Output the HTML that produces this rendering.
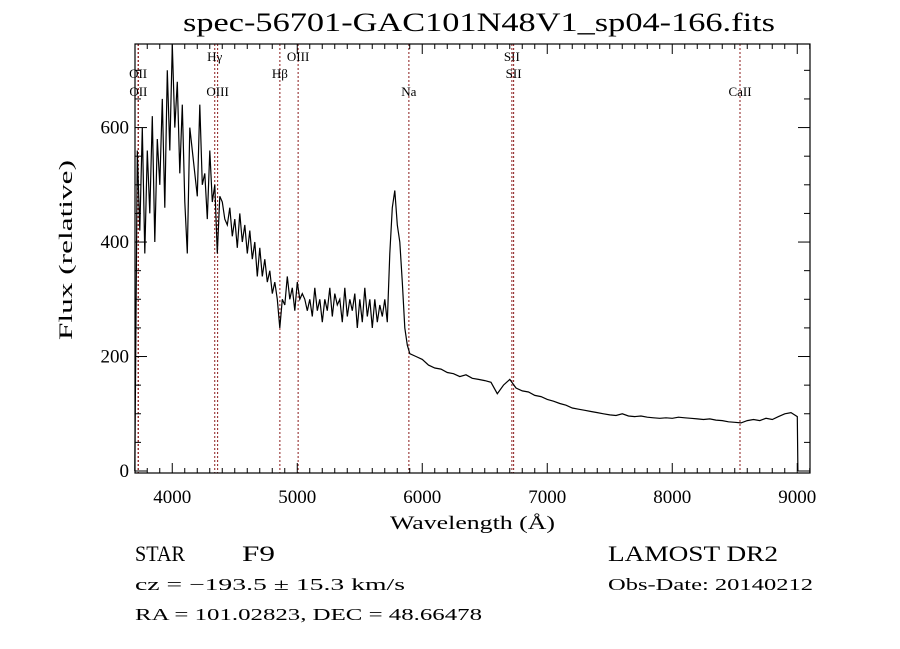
<!DOCTYPE html>
<html><head><meta charset="utf-8"><style>
html,body{margin:0;padding:0;background:#fff}
svg{display:block}
text{font-family:"Liberation Serif",serif;fill:#000}
</style></head><body>
<svg id="chart" width="900" height="649" viewBox="0 0 900 649" xmlns="http://www.w3.org/2000/svg">
<rect width="900" height="649" fill="#fff"/>
<text x="183" y="31" font-size="26" textLength="592" lengthAdjust="spacingAndGlyphs">spec-56701-GAC101N48V1_sp04-166.fits</text>
<g id="lines"></g>
<g id="axes"></g>
<polyline id="spec" fill="none" stroke="#000" stroke-width="1.2" stroke-linejoin="miter"/>
<rect x="135" y="44" width="675" height="429" fill="none" stroke="#000" stroke-width="1.2"/>
<text x="390" y="529" font-size="19" textLength="165" lengthAdjust="spacingAndGlyphs">Wavelength (Å)</text>
<text transform="translate(72,340) rotate(-90)" font-size="19" textLength="180" lengthAdjust="spacingAndGlyphs">Flux (relative)</text>
<text x="135" y="561" font-size="22" textLength="50" lengthAdjust="spacingAndGlyphs">STAR</text>
<text x="242" y="561" font-size="22" textLength="33" lengthAdjust="spacingAndGlyphs">F9</text>
<text x="608" y="561" font-size="22" textLength="170" lengthAdjust="spacingAndGlyphs">LAMOST DR2</text>
<text x="135" y="590" font-size="17" textLength="270" lengthAdjust="spacingAndGlyphs">cz = −193.5 ± 15.3 km/s</text>
<text x="608" y="590" font-size="17" textLength="205" lengthAdjust="spacingAndGlyphs">Obs-Date: 20140212</text>
<text x="135" y="620" font-size="17" textLength="347" lengthAdjust="spacingAndGlyphs">RA = 101.02823, DEC =  48.66478</text>
</svg>
<script>
const blueStart=3700, blueStep=20;
const fluxBlue=[0,560,420,600,380, 560,450,620,400,580, 500,650,460,700,560, 745,600,680,520,640,
470,380,600,560,520, 480,640,500,520,440, 560,470,500,380,480, 470,440,430,460,410,
440,390,450,400,430, 380,420,370,400,340, 390,340,370,330,350, 310,330,300,250,300,
290,340,300,320,280, 330,300,310,300,280, 300,270,320,280,300, 260,300,280,320,270,
310,290,300,260,320, 270,300,280,310,250, 300,260,320,270,300, 250,300,260,290,270,
300,260,380,460,490, 430,400,330,250,220, 205];
const redStart=5950, redStep=50;
const fluxRed=[200,195,185,180,178,172,170,165,168,162,160,158,155,135,150,160,145,140,138,132,
130,125,122,118,115,110,108,106,104,102,100,98,97,100,96,95,96,94,93,92,
93,92,94,93,92,91,90,91,89,88,86,85,84,88,90,88,92,90,95,100,102,95];
const lineWaves=[3727,3729,4340,4363,4861,5007,5893,6717,6731,8542];
const lineNames=["OII","OII","Hγ","OIII","Hβ","OIII","Na","SII","SII","CaII"];
const lineLabelRows=[1,2,0,2,1,0,2,0,1,2];
const xTicks=[4000,5000,6000,7000,8000,9000];
const yTicks=[0,200,400,600];
const X0=135,X1=810,Y0=44,Y1=473,WMIN=3702,WMAX=9102,FMIN=-3.5,FMAX=746;
const xs=w=>X0+(w-WMIN)/(WMAX-WMIN)*(X1-X0);
const ys=f=>Y1-(f-FMIN)/(FMAX-FMIN)*(Y1-Y0);
const NS="http://www.w3.org/2000/svg";
function mk(tag,parent){const e=document.createElementNS(NS,tag);parent.appendChild(e);return e;}
const pts=[];
fluxBlue.forEach((f,i)=>pts.push([blueStart+i*blueStep,f]));
fluxRed.forEach((f,i)=>pts.push([redStart+i*redStep,f]));
const last=pts[pts.length-1];
pts.push([last[0]+5,0]);
const spec=document.getElementById('spec');
spec.setAttribute('points',pts.map(p=>xs(p[0]).toFixed(1)+','+ys(p[1]).toFixed(1)).join(' '));
const lg=document.getElementById('lines');
const rowY=[61,78,96];
lineWaves.forEach((w,i)=>{
  const l=mk('line',lg);
  
  
  l.setAttribute('x1',xs(w));l.setAttribute('x2',xs(w));l.setAttribute('y1',Y0);l.setAttribute('y2',Y1);
  l.setAttribute('stroke','#8b1a1a');l.setAttribute('stroke-width','1');l.setAttribute('stroke-dasharray','2,2');
  const t=mk('text',lg);
  
  
  t.setAttribute('x',xs(w));t.setAttribute('y',rowY[lineLabelRows[i]]);
  t.setAttribute('font-size','13');t.setAttribute('text-anchor','middle');
  t.textContent=lineNames[i];
});
const ax=document.getElementById('axes');
function tick(x1,y1,x2,y2){const l=mk('line',ax);
  
  
  l.setAttribute('x1',x1);l.setAttribute('y1',y1);l.setAttribute('x2',x2);l.setAttribute('y2',y2);l.setAttribute('stroke','#000');l.setAttribute('stroke-width','1');}
for(let w=3800;w<=9100;w+=100){const x=xs(w);const len=(w%1000===0)?10:5;tick(x,Y1,x,Y1-len);tick(x,Y0,x,Y0+len);}
for(let f=0;f<=740;f+=50){const y=ys(f);const len=(f%200===0)?12:6;tick(X0,y,X0+len,y);tick(X1,y,X1-len,y);}
xTicks.forEach(w=>{const t=mk('text',ax);
  
  
  t.setAttribute('x',xs(w));t.setAttribute('y',503);t.setAttribute('font-size','19');t.setAttribute('text-anchor','middle');t.textContent=w;});
yTicks.forEach(f=>{const t=mk('text',ax);
  
  
  t.setAttribute('x',129);t.setAttribute('y',ys(f)+6);t.setAttribute('font-size','19');t.setAttribute('text-anchor','end');t.textContent=f;});
</script>
</body></html>
